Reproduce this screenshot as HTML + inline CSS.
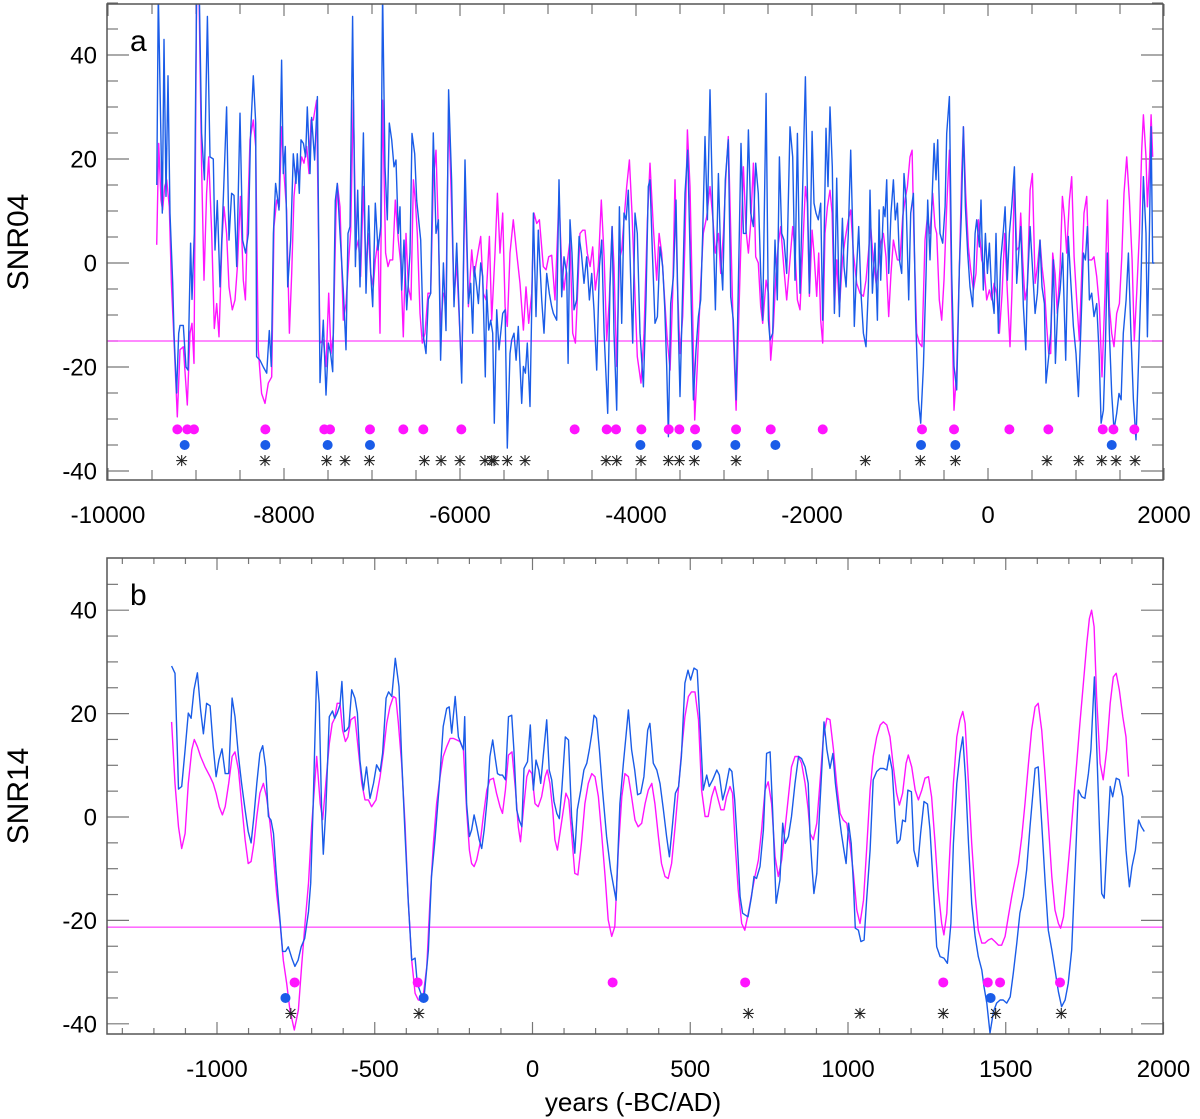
<!DOCTYPE html>
<html><head><meta charset="utf-8"><style>
html,body{margin:0;padding:0;background:#fff;}
svg{display:block;font-family:"Liberation Sans",sans-serif;}
</style></head><body>
<svg id="chart" width="1200" height="1119" viewBox="0 0 1200 1119" xmlns="http://www.w3.org/2000/svg">
<defs>
<clipPath id="clipA"><rect x="107" y="4" width="1056" height="476"/></clipPath>
<clipPath id="clipB"><rect x="107" y="558" width="1056" height="476"/></clipPath>
</defs>
</svg>
<script>
// ---------- Panel a data (year, value) ----------
const panelABlue = [[-9445,15],[-9428,52],[-9383,9.6],[-9364,43],[-9341,12.8],[-9318,36],[-9296,9.6],[-9265,-3.9],[-9250,-13.5],[-9220,-25],[-9197,-13.5],[-9182,-12],[-9144,-12],[-9114,-20],[-9091,-20.6],[-9061,3.8],[-9046,-7],[-9019,5.7],[-8993,52],[-8962,52],[-8936,25],[-8905,16],[-8871,47.4],[-8841,20.4],[-8803,20],[-8784,2.5],[-8758,12],[-8727,-4.6],[-8689,12.8],[-8652,30],[-8625,4.4],[-8595,13.4],[-8568,13],[-8538,-0.7],[-8500,28.8],[-8470,4.4],[-8436,1.9],[-8405,5.7],[-8379,25],[-8349,36],[-8322,26.9],[-8311,-18],[-8273,-18.7],[-8235,-20],[-8197,-21.2],[-8167,-13],[-8144,-19.9],[-8121,5.7],[-8095,15.3],[-8057,10.2],[-8027,39],[-8008,17.2],[-7985,22.4],[-7958,-4.6],[-7924,4.4],[-7894,21],[-7864,15.3],[-7849,21],[-7826,13.4],[-7807,23.7],[-7780,23],[-7754,20.4],[-7735,30],[-7705,17.2],[-7686,28],[-7652,19.8],[-7621,32],[-7591,-23],[-7553,-11],[-7523,-25.4],[-7496,-15.4],[-7470,-17.4],[-7447,-20.9],[-7417,12],[-7394,15.3],[-7364,5.7],[-7326,-5.2],[-7296,-16.7],[-7273,5.7],[-7250,7],[-7220,47.4],[-7189,-0.7],[-7163,14],[-7136,-4.6],[-7098,25],[-7068,-5.8],[-7038,11],[-7015,-2],[-6992,-8.4],[-6962,11.5],[-6932,2.5],[-6901,7],[-6879,52],[-6852,18.5],[-6826,8.3],[-6803,26.9],[-6776,23.7],[-6750,18.5],[-6727,19.8],[-6701,5.7],[-6682,10.8],[-6663,-5.2],[-6636,4.4],[-6606,-9],[-6568,1.9],[-6546,24.9],[-6515,21],[-6492,12],[-6447,4.4],[-6417,-14],[-6386,-17.4],[-6360,-7],[-6333,-5.8],[-6303,25],[-6273,5.7],[-6246,8.3],[-6220,-18.7],[-6189,0],[-6159,-13],[-6129,33.3],[-6095,16],[-6068,-8.4],[-6038,3.8],
[-5981,-23.1],[-5943,19.8],[-5905,-7.8],[-5878,-3.9],[-5856,-13.5],[-5837,-0.7],[-5810,-4.6],[-5791,-7.8],[-5765,0],[-5742,-2.6],[-5712,-21.9],[-5697,-5.2],[-5674,-12.9],[-5651,-11],[-5628,-13.5],[-5610,-30.8],[-5583,-9],[-5557,-16.7],[-5538,-13.5],[-5515,-9.7],[-5488,-9],[-5462,-35.6],[-5432,-17.4],[-5413,-14.8],[-5386,-13.5],[-5363,-18.7],[-5337,-12.2],[-5299,-27],[-5280,-19.9],[-5257,-21.2],[-5235,-15.4],[-5204,-27.6],[-5166,9.6],[-5136,-10.3],[-5110,6.3],[-5072,-7.1],[-5045,-13.5],[-5015,-2],[-4985,-5.8],[-4958,-8.4],[-4939,-9.7],[-4901,-11],[-4875,16],[-4844,-6.5],[-4818,1.2],[-4788,-2],[-4772,-19.3],[-4750,8.3],[-4727,1.9],[-4704,-9],[-4674,-7.1],[-4647,5.1],[-4621,1.9],[-4591,-3.9],[-4560,1.2],[-4530,-7.1],[-4503,-2],[-4477,-9],[-4447,-20.6],[-4416,-0.7],[-4390,4.4],[-4363,-13.5],[-4322,-28.9],[-4295,-4.6],[-4272,7],[-4250,-13.5],[-4219,-28.3],[-4189,10.8],[-4162,-11.6],[-4136,9.6],[-4113,8.3],[-4087,14],[-4060,-3.3],[-4038,-15.4],[-4011,9.6],[-3985,5.7],[-3954,-13.5],[-3916,-23.8],[-3886,-7.1],[-3860,14.7],[-3841,16],[-3814,1.9],[-3784,-11.6],[-3757,-10.3],[-3727,3.1],[-3697,-0.7],[-3674,-8.4],[-3651,-19.9],[-3632,-33.4],[-3606,-7.8],[-3575,-2.6],[-3545,12.1],[-3519,-12.2],[-3500,-25.7],[-3469,-4.6],[-3443,13.4],[-3413,21.7],[-3386,2.5],[-3348,-26.3],[-3318,-16.7],[-3291,-10.3],[-3265,-7.1],[-3242,5.7],[-3216,24.3],[-3189,8.3],[-3159,33.3],[-3128,10.2],[-3098,-9],[-3064,17.2],[-3038,1.2],[-3015,-5.2],[-2985,16],[-2951,23.7],[-2924,-6.5],[-2894,-11],[-2863,-26.3],[-2833,-0.7],[-2807,23],[-2780,5.7],[-2750,5.7],[-2723,25.6],[-2697,9.6],[-2666,7],[-2640,19.2],[-2610,13.4],[-2583,-2],[-2560,-11],[-2522,32.6],[-2496,-11],[-2477,-14.8],[-2447,-13.5],[-2420,4.4],[-2394,-7.1],[-2371,20.4],[-2344,5.7],[-2318,4.4],[-2288,-2],[-2250,26.2],[-2219,20.4],[-2193,-3.3],[-2166,24.9],[-2136,-5.8],[-2106,14.7],[-2075,35.8],[-2053,14.7],
[-2030,-5.8],[-1999,25.3],[-1977,11.5],[-1954,9.6],[-1928,8.3],[-1901,11.5],[-1878,-11],[-1841,25.9],[-1818,14.7],[-1795,30],[-1769,18.5],[-1746,-9.7],[-1719,16.3],[-1689,-10.3],[-1655,8.6],[-1636,-0.7],[-1613,-4.6],[-1587,5.7],[-1560,21.7],[-1537,6.3],[-1519,-12.2],[-1492,-0.7],[-1469,7],[-1443,-5.8],[-1416,-13.5],[-1386,-16.1],[-1359,-4.6],[-1341,14],[-1314,-5.8],[-1284,3.8],[-1257,-11],[-1238,10.2],[-1219,-3.3],[-1189,10.8],[-1170,8.9],[-1151,16],[-1128,-2],[-1102,9.6],[-1075,16],[-1053,8.3],[-1030,11.5],[-1007,0.6],[-981,-2],[-954,17.2],[-931,12.1],[-901,-7.1],[-878,9.6],[-848,13.4],[-822,-11],[-791,-26.3],[-765,-30.8],[-734,-19.9],[-704,-2.6],[-685,12.1],[-659,0.6],[-636,12.1],[-613,23],[-591,16],[-572,23.7],[-545,5.7],[-515,3.8],[-488,10.8],[-469,24.9],[-439,32],[-412,-2],[-386,-19.9],[-356,-24.4],[-325,-0.7],[-303,8.9],[-280,26.2],[-257,10.8],[-231,1.9],[-204,-4.6],[-174,-8.4],[-147,5.7],[-128,8.3],[-98,3.1],[-79,12.1],[-53,-5.2],[-30,5.7],[-7,-2],[16,3.8],[42,-5.8],[69,-9.7],[91,5.7],[118,-13.5],[144,0.6],[175,6.3],[194,10.8],[220,-3.3],[243,5.7],[269,10.8],[300,18.5],[326,-3.9],[349,1.9],[372,7],[402,-8.4],[429,-16.7],[447,-4.6],[478,7],[504,-0.7],[535,-9.7],[561,-5.8],[591,4.4],[614,-4.6],[641,-7.8],[659,-23.1],[690,-18],[713,-13.5],[743,0.6],[766,-19.3],[792,-9],[819,-5.2],[849,1.9],[883,-18.7],[913,5.1],[940,-3.3],[970,-12.2],[1000,-17.4],[1027,-25.7],[1053,-13.5],[1084,1.9],[1107,0.6],[1129,7],[1152,-7.1],[1178,-5.8],[1205,-10.3],[1235,-7.8],[1262,-17.4],[1285,-30.8],[1311,-28.3],[1334,-16.1],[1357,1.9],[1379,-13.5],[1406,-25.1],[1432,-32.1],[1463,-28.9],[1489,-25.1],[1512,-26.3],[1538,-13.5],[1569,-7.1],[1595,1.9],[1622,-12.2],[1652,-26.3],[1682,-34],[1709,-19.9],[1735,-5.8],[1766,16.6],[1796,5.7],[1811,-14.2],[1834,5.7],[1853,26.2],[1872,0],[1890,0]];

const panelAMagenta = [[-9447,3.5],[-9424,23],[-9398,12.1],[-9379,10.2],[-9356,14.7],[-9333,16],[-9303,10.8],[-9280,-3.9],[-9250,-14.8],[-9212,-29.6],[-9182,-16.7],[-9144,-16.1],[-9099,-27.3],[-9068,-13.5],[-9046,-11.6],[-9023,-19.3],[-8993,52],[-8966,52],[-8936,18.5],[-8909,-3.3],[-8879,13.4],[-8856,20.4],[-8822,5.7],[-8792,-12.6],[-8765,-7.8],[-8739,-14.2],[-8705,4.4],[-8682,10.8],[-8652,5.7],[-8625,-4.6],[-8587,-9],[-8557,-7.1],[-8530,-0.7],[-8496,12.8],[-8462,-3.3],[-8439,-7.1],[-8417,6.3],[-8386,23.7],[-8349,27.5],[-8322,22.4],[-8292,-16.7],[-8254,-25.1],[-8216,-27],[-8178,-23.1],[-8140,-21.9],[-8114,7],[-8083,12.1],[-8053,10.8],[-8027,26.2],[-8000,17.2],[-7970,10.2],[-7939,-13.5],[-7913,-2],[-7886,12.8],[-7856,18.5],[-7830,16.6],[-7799,20.4],[-7773,19.2],[-7742,22.4],[-7716,17.2],[-7693,27.5],[-7667,27.5],[-7629,31.3],[-7591,-15.4],[-7553,-14.8],[-7523,-19.9],[-7492,-5.8],[-7466,-17.4],[-7439,-13.5],[-7409,9.6],[-7394,15.3],[-7364,10.8],[-7326,-11],[-7296,-7.8],[-7269,-0.7],[-7242,6.3],[-7212,31.3],[-7182,2.5],[-7155,4.4],[-7129,-2.6],[-7098,14.7],[-7072,-0.7],[-7042,5.7],[-7015,-2],[-6985,-4.6],[-6962,0.6],[-6932,4.4],[-6909,-13.5],[-6879,31.3],[-6845,1.9],[-6818,-0.7],[-6796,0.6],[-6765,0.6],[-6735,12.1],[-6701,4.4],[-6674,0],[-6644,-14.2],[-6614,5.7],[-6587,-4.6],[-6557,-7.1],[-6530,16],[-6508,12.1],[-6485,5.7],[-6455,-9.7],[-6428,-15.4],[-6398,-13.5],[-6364,-5.8],[-6333,-5.8],[-6303,16],[-6273,21.7],[-6246,5.7],[-6220,-12.2],[-6189,-5.8],[-6159,-7.1],[-6129,29.4],[-6095,10.8],[-6068,-7.1],[-6038,0],
[-5981,-21.2],[-5943,14.7],[-5905,-8.4],[-5867,2.5],[-5841,-2.6],[-5810,0.6],[-5765,5.1],[-5735,-5.8],[-5704,-7.1],[-5666,5.1],[-5640,-11],[-5602,1.9],[-5575,13.4],[-5545,1.9],[-5515,9.6],[-5488,-8.4],[-5462,-12.2],[-5432,1.9],[-5394,8.3],[-5356,1.9],[-5318,-3.9],[-5280,-12.9],[-5250,-4.6],[-5219,-11.6],[-5185,-5.8],[-5159,9.6],[-5128,7.6],[-5098,8.3],[-5053,-0.7],[-5022,-1.3],[-4992,1.2],[-4958,1.5],[-4920,-7.1],[-4875,12.8],[-4844,-0.7],[-4818,-5.2],[-4788,-0.7],[-4750,4.4],[-4719,-13.5],[-4689,-15.4],[-4659,-3.9],[-4636,5.7],[-4606,6.3],[-4579,6.3],[-4553,1.9],[-4522,-0.7],[-4492,3.1],[-4462,-5.2],[-4428,-0.7],[-4394,12.1],[-4363,1.2],[-4333,-14.8],[-4303,-7.1],[-4272,7],[-4250,-0.7],[-4219,-19.9],[-4189,0.6],[-4162,2.5],[-4136,8.3],[-4106,14.7],[-4075,19.8],[-4045,9.6],[-4015,-4.6],[-3985,-18],[-3943,-23.1],[-3909,-13.5],[-3871,8.3],[-3841,19.2],[-3803,7],[-3765,-3.3],[-3738,5.7],[-3708,1.9],[-3674,-7.1],[-3644,-14.8],[-3613,-20.6],[-3583,-5.8],[-3557,16],[-3530,-3.9],[-3500,-17.4],[-3469,-10.3],[-3443,4.4],[-3416,25.6],[-3386,14.7],[-3359,-7.1],[-3333,-30.2],[-3303,-19.9],[-3272,-6.5],[-3235,5.7],[-3197,8.9],[-3159,14.7],[-3128,8.9],[-3098,1.9],[-3064,5.7],[-3038,-2],[-3007,5.7],[-2977,17.2],[-2951,24.3],[-2924,6.3],[-2894,-13.5],[-2863,-28.3],[-2833,-11],[-2807,4.4],[-2780,18.5],[-2750,6.3],[-2723,1.9],[-2697,7.6],[-2666,19.2],[-2640,1.2],[-2610,0],[-2583,-8.4],[-2560,-11.6],[-2522,-3.3],[-2496,-5.8],[-2469,-18.7],[-2439,-12.2],[-2409,-2],[-2382,3.8],[-2356,7],[-2318,-1.3],[-2288,-7.1],[-2250,0.6],[-2219,7],[-2193,2.5],[-2166,-7.1],[-2136,-9],[-2106,2.5],[-2075,14.7],[-2053,11.5],
[-2030,-6.4],[-1999,6.3],[-1977,1.9],[-1947,-6.4],[-1924,1.9],[-1901,-11],[-1878,-15.4],[-1852,5.7],[-1825,10.8],[-1795,14],[-1772,9.6],[-1746,-9],[-1719,0.6],[-1689,-9],[-1655,0.6],[-1625,4.4],[-1587,8.3],[-1560,10.2],[-1530,1.9],[-1492,-3.9],[-1454,-5.8],[-1416,-6.4],[-1386,-3.3],[-1359,1.9],[-1333,7],[-1303,0.6],[-1272,-3.9],[-1246,-0.7],[-1219,3.8],[-1189,5.7],[-1159,1.2],[-1128,-10.3],[-1102,-2],[-1075,4.4],[-1053,2.5],[-1030,0.6],[-1000,0.6],[-969,8.9],[-943,12.1],[-916,14.7],[-886,20.4],[-863,21.7],[-841,4.4],[-810,-13.5],[-780,-15.4],[-750,-16.1],[-716,4.4],[-689,8.9],[-659,5.7],[-628,13.4],[-602,7],[-583,5.7],[-553,-7.1],[-526,-11],[-500,-3.3],[-469,10.8],[-439,21.7],[-412,-7.1],[-386,-28.3],[-356,-20.6],[-325,-0.7],[-299,17.2],[-280,26.2],[-253,13.4],[-223,3.1],[-197,-1.3],[-166,-5.2],[-136,-2],[-109,8.3],[-72,0.6],[-45,-0.7],[-15,-7.1],[16,-5.2],[42,-7.1],[69,-3.9],[99,-5.8],[129,-13.5],[160,-5.8],[190,5.7],[220,-5.8],[250,-16.1],[273,-5.2],[300,16.6],[326,2.5],[353,3.1],[372,9.6],[394,0.6],[421,-7.1],[447,-4.6],[478,14],[504,17.2],[535,-3.9],[561,-0.7],[591,4.4],[614,-0.7],[641,-4.6],[667,-12.2],[690,-17.4],[713,-17.4],[735,1.9],[762,-2],[788,-9.7],[819,-0.7],[845,12.8],[868,8.9],[894,1.9],[925,12.1],[951,16.6],[978,1.2],[1008,-7.1],[1038,-14.8],[1065,-2],[1091,9.6],[1122,12.8],[1144,0.6],[1178,0.6],[1205,1.2],[1235,-2.6],[1266,-8.4],[1296,-21.9],[1330,-5.8],[1357,12.1],[1379,-8.4],[1406,-13.5],[1432,-16.1],[1463,-9.7],[1493,-7.8],[1520,1.2],[1546,13.4],[1576,20.4],[1607,12.1],[1637,0.6],[1663,-14.8],[1690,-5.8],[1720,5.7],[1747,21.7],[1766,28.5],[1796,20.4],[1811,10.8],[1834,18.5],[1853,28.5],[1872,20.4]];

const panelAMagentaDots = [-9212,-9099,-9023,-8212,-7542,-7477,-7023,-6644,-6417,-5985,-4697,-4333,-4227,-3939,-3628,-3507,-3329,-2863,-2469,-1878,-750,-386,243,686,1304,1425,1663];
const panelABlueDots = [-9129,-8212,-7504,-7023,-3950,-3310,-2871,-2416,-761,-371,1406];
const panelAStars = [-9163,-8216,-7515,-7307,-7030,-6405,-6215,-6000,-5716,-5640,-5613,-5462,-5261,-4340,-4219,-3943,-3632,-3507,-3337,-2863,-1394,-769,-371,671,1031,1292,1455,1671];
const panelAThreshold = -15;
const panelAXTicks = [-10000,-8000,-6000,-4000,-2000,0,2000];
const panelAYTicks = [40,20,0,-20,-40];

// ---------- Panel b data ----------
const panelBBlue = [[-1144,29.2],[-1133,27.8],[-1122,5.4],[-1112,5.9],[-1101,13],[-1091,20.1],[-1082,19.1],[-1073,24.6],[-1062,27.9],[-1052,20.7],[-1043,16.1],[-1033,22],[-1022,21.5],[-1012,13.6],[-1003,7.8],[-994,11],[-984,13.2],[-974,8.4],[-963,8.4],[-952,23],[-943,19.4],[-932,11.7],[-922,6.5],[-911,1.4],[-901,-2.8],[-892,-5],[-883,0.1],[-874,6.5],[-864,12.3],[-855,13.8],[-846,9.7],[-837,0.1],[-829,-0.6],[-821,-3.2],[-813,-10.3],[-803,-18],[-792,-26],[-783,-26],[-774,-25.1],[-763,-27.3],[-753,-28.9],[-743,-27.7],[-733,-25.1],[-722,-23.5],[-710,-18.3],[-703,-12.8],[-695,2.6],[-684,28.1],[-676,22],[-668,0.7],[-663,-7.2],[-655,1.4],[-644,19.4],[-634,20.5],[-627,19.1],[-619,20.1],[-610,21.7],[-604,26.2],[-596,16.5],[-589,16.8],[-582,17.5],[-573,24.6],[-563,23],[-555,20.1],[-547,11],[-536,5.2],[-526,9.7],[-515,3.6],[-504,6.5],[-494,10.1],[-483,8.8],[-475,12.3],[-464,23],[-456,24.2],[-446,23.3],[-435,30.7],[-423,25.2],[-415,11.7],[-404,-3.2],[-394,-16.1],[-383,-27.7],[-372,-27.3],[-365,-32.2],[-354,-34.1],[-344,-35.1],[-330,-25.7],[-320,-11.5],[-309,-4.4],[-295,6.5],[-283,17.5],[-272,21],[-264,21.3],[-256,16.2],[-245,23.3],[-235,15.5],
[-219,13],[-215,19.4],[-209,2.6],[-200,-3.8],[-193,-2.5],[-185,0.4],[-177,-1.9],[-169,-4.4],[-161,-6.1],[-153,-2.5],[-143,3.9],[-135,11.7],[-126,14.9],[-119,11.7],[-111,8.4],[-103,8.1],[-95,8.1],[-86,7.2],[-76,19.4],[-66,19.7],[-59,13],[-50,1.4],[-42,-0.6],[-34,-1.9],[-27,9.4],[-16,10.7],[-7,17.8],[3,5.2],[11,11],[20,9.1],[26,6.5],[34,11.7],[45,18.8],[53,9.1],[61,7.2],[68,3],[77,0.7],[85,-0.3],[93,5.2],[104,15.5],[114,14.9],[124,0.1],[134,-7],[142,1.4],[153,5.2],[163,9.1],[172,10.4],[180,13],[189,16.5],[195,19.7],[203,19.1],[212,13],[222,5.2],[235,-3.8],[248,-10.3],[265,-16.1],[277,2.6],[288,10.4],[296,15.5],[304,20.7],[314,13],[324,9.1],[333,4.3],[343,4.6],[353,7.8],[365,16.8],[372,18.1],[383,10.4],[394,9.1],[404,6.5],[415,1.4],[425,-3.8],[434,-7.7],[442,-2.5],[453,4.6],[463,5.9],[472,11.7],[483,25.9],[493,28.4],[501,26.5],[512,28.8],[522,28.4],[531,18.1],[541,5.2],[552,8.1],[560,5.9],[571,7.2],[584,9.1],[592,8.1],[603,3.3],[611,5.2],[624,9.4],[632,8.8],[641,3.3],[649,-5.1],[658,-15.4],[666,-18.6],[675,-19],[683,-19.3],[694,-15.4],[702,-11.5],[710,-11.9],[721,-9.6],[732,-2.5],[742,12.3],[753,12.6],[761,1.4],[772,-16.7],[784,-12.2],[793,-1.2],[801,-5.1],[811,-3.8],[821,0.1],[832,6.5],[843,11.7],[853,11.3],[864,9.7],[874,6.5],
[880,-3.8],[886,-9.6],[892,-14.8],[901,-10.9],[909,0.1],[918,10.4],[924,18.4],[933,13],[943,9.4],[952,12.3],[960,6.5],[971,0.7],[979,-3.2],[987,-6.4],[994,-9],[1002,-1.2],[1010,-5.1],[1017,-12.8],[1023,-21.5],[1033,-21.9],[1041,-24.1],[1051,-23.8],[1059,-16.1],[1070,-6.4],[1080,7.2],[1091,8.8],[1102,9.4],[1112,9.4],[1123,9.1],[1131,12],[1140,9.1],[1149,0.1],[1156,-5.1],[1165,-4.4],[1173,-0.6],[1182,-0.9],[1190,5.2],[1201,4.9],[1209,-6.4],[1221,-9.6],[1230,-3.2],[1241,3],[1252,2.5],[1260,-2.5],[1271,-14.1],[1281,-25.1],[1292,-27],[1304,-27.3],[1315,-28.3],[1326,-20.6],[1334,-5.1],[1345,6.5],[1355,12.3],[1364,15.5],[1372,7.8],[1382,-5.1],[1392,-16.7],[1403,-23.1],[1413,-27],[1424,-29.6],[1431,-32.8],[1440,-36],[1450,-41.8],[1461,-37.7],[1471,-36],[1482,-35.4],[1492,-35.4],[1503,-36],[1514,-34.8],[1524,-30.2],[1535,-24.4],[1545,-18.6],[1556,-15.4],[1566,-10.3],[1577,-1.9],[1588,5.9],[1593,9.4],[1603,9.7],[1614,-1.2],[1625,-12.8],[1635,-21.9],[1646,-25.7],[1656,-29.6],[1667,-33.8],[1677,-36.7],[1688,-35.4],[1698,-32.2],[1709,-25.7],[1720,-9.6],[1730,5.2],[1741,3.9],[1751,3.6],[1762,8.4],[1770,13],[1781,27.1],[1788,14.2],[1797,-2.5],[1804,-14.8],[1812,-15.7],[1820,-6.4],[1831,5.9],[1839,3.9],[1850,7.5],[1860,7.2],[1871,3.9],[1881,-6.4],[1892,-13.5],[1900,-9.6],[1911,-6.4],[1921,-0.6],[1930,-1.9],[1939,-2.8]];

const panelBMagenta = [[-1144,18.4],[-1133,6.5],[-1122,-1.9],[-1112,-6.1],[-1101,-3.2],[-1091,6.5],[-1080,13],[-1072,15],[-1062,13.6],[-1052,11.7],[-1038,9.7],[-1022,7.8],[-1012,6.5],[-1003,4.6],[-993,2],[-983,0.4],[-974,2],[-963,6.5],[-952,11.7],[-943,12.6],[-932,9.1],[-922,2.6],[-911,-4.4],[-901,-9],[-892,-8.6],[-883,-5.1],[-874,0.1],[-864,4.6],[-853,6.5],[-843,3.9],[-832,-1.2],[-821,-7.7],[-811,-14.8],[-800,-20.6],[-790,-27.7],[-779,-32.2],[-769,-37.3],[-755,-41.2],[-742,-37.3],[-732,-28.9],[-721,-20.6],[-710,-12.8],[-700,-1.9],[-684,11.7],[-673,2.6],[-665,-0.5],[-655,6.5],[-644,14.2],[-635,18.1],[-627,19.1],[-619,22],[-610,22],[-602,16.8],[-593,14.6],[-585,15.5],[-576,18.8],[-563,19.4],[-552,13],[-541,6.5],[-531,3.3],[-520,3.3],[-510,2],[-496,3.3],[-483,7.8],[-473,12.3],[-462,18.1],[-452,21.3],[-441,23.3],[-433,23],[-425,18.1],[-415,10.4],[-404,-1.2],[-394,-16.1],[-383,-27.7],[-372,-34.1],[-362,-35.4],[-348,-35.4],[-335,-28.9],[-325,-16.1],[-314,-5.1],[-304,2.6],[-293,7.8],[-283,11.7],[-272,13.6],[-261,15.2],[-251,15.2],[-240,14.9],[-230,14.6],
[-219,13],[-209,1.4],[-200,-6.4],[-193,-9],[-185,-9.6],[-177,-8.3],[-166,-5.1],[-156,0.1],[-145,5.2],[-135,7.2],[-124,7.5],[-114,4.6],[-103,2],[-95,0.7],[-86,5.2],[-76,12],[-65,12.6],[-54,5.2],[-45,-1.9],[-38,-4.8],[-29,1.4],[-18,7.8],[-10,9.1],[-2,8.4],[8,2.6],[18,2],[29,3.9],[40,7.8],[47,9.1],[55,6.5],[64,1.4],[71,-4.4],[79,-6.4],[87,-3.2],[98,1.4],[106,4.6],[115,3.3],[124,-3.2],[134,-10.9],[144,-11.2],[155,-5.1],[166,2.6],[177,6.5],[188,8.4],[198,7.8],[209,3.9],[219,-3.2],[230,-11.5],[240,-19.9],[251,-23.1],[261,-21.2],[272,-6.4],[283,3.9],[293,8.4],[304,7.8],[314,3.9],[325,-0.6],[335,-1.9],[346,-1.2],[357,2.6],[367,5.2],[378,6.5],[388,2.6],[399,-3.8],[409,-9],[420,-11.5],[430,-11.9],[441,-9],[452,-1.9],[462,5.2],[473,13],[483,19.4],[494,23.3],[504,24.2],[515,24.2],[526,18.8],[536,5.2],[547,0.1],[557,0.1],[568,3.9],[578,5.9],[589,3.3],[597,1.4],[607,1.4],[615,3.9],[626,5.9],[634,4.6],[642,-5.1],[652,-14.1],[663,-20.6],[673,-21.9],[684,-18.6],[695,-14.8],[705,-11.5],[716,-8.3],[726,-2.5],[737,5.2],[747,6.8],[758,2.6],[769,-7.7],[779,-11.5],[790,-8.3],[800,-2.5],[811,3.9],[821,9.7],[832,11.7],[843,11.7],[853,10.4],[864,6.5],[874,1.4],
[880,-3.2],[890,-4.4],[901,-1.2],[911,6.5],[922,15.5],[933,19.1],[943,18.8],[954,13],[964,6.5],[975,0.7],[985,-0.6],[996,-1.2],[1006,-5.1],[1017,-10.9],[1028,-18],[1038,-20.6],[1049,-16.1],[1059,-6.4],[1070,5.2],[1080,11.7],[1091,15.5],[1102,17.8],[1112,18.4],[1123,17.8],[1133,15.5],[1144,9.7],[1154,4.6],[1163,2.3],[1173,4.6],[1184,10.4],[1191,12],[1202,9.7],[1213,5.2],[1223,3.3],[1234,5.2],[1244,7.5],[1255,7.8],[1265,3.9],[1276,-5.1],[1286,-14.1],[1297,-20.6],[1304,-22.8],[1313,-18.6],[1323,-6.4],[1334,6.5],[1345,15.5],[1355,18.8],[1364,20.4],[1371,18.1],[1382,6.5],[1392,-5.1],[1403,-14.8],[1413,-21.9],[1424,-24.4],[1434,-24.4],[1445,-23.8],[1455,-23.5],[1466,-24.1],[1477,-24.8],[1487,-24.8],[1498,-23.1],[1508,-19.3],[1519,-15.4],[1529,-12.2],[1540,-9],[1551,-3.8],[1561,2.6],[1572,10.4],[1582,16.8],[1593,21.3],[1603,22],[1614,16.8],[1625,7.8],[1635,-1.2],[1646,-11.5],[1656,-18],[1667,-20.6],[1674,-21.5],[1683,-19.3],[1693,-12.8],[1704,-5.1],[1714,2.6],[1725,10.4],[1735,18.1],[1746,25.9],[1757,33.6],[1765,38.4],[1772,40],[1780,36.8],[1788,23.3],[1799,10.4],[1809,7.2],[1820,13],[1831,22],[1841,27.1],[1850,27.8],[1860,24.6],[1871,19.4],[1881,15.5],[1889,7.8]];

const panelBMagentaDots = [-754,-364,254,674,1302,1443,1482,1672];
const panelBBlueDots = [-783,-345,1452];
const panelBStars = [-766,-360,684,1038,1302,1468,1676];
const panelBThreshold = -21.3;
const panelBXTicks = [-1000,-500,0,500,1000,1500,2000];
const panelBYTicks = [40,20,0,-20,-40];

// ---------- Rendering ----------
const NS = 'http://www.w3.org/2000/svg';
const svg = document.getElementById('chart');
const BLUE = '#1a5ce8', MAG = '#ff14ff';

function mk(tag, attrs, parent) {
  const e = document.createElementNS(NS, tag);
  for (const k in attrs) e.setAttribute(k, attrs[k]);
  (parent || svg).appendChild(e);
  return e;
}

function drawPanel(p) {
  const g = mk('g', {});
  
  
  const L = 107, R = 1163, T = p.top, B = p.top + 476;

  const tg = mk('g', {stroke: '#777', 'stroke-width': 1.2}, g);
  
  
  for (let v = p.yMinTick; v <= p.yMaxTick; v += 5) {
    const y = p.y(v);
    const len = (v % 20 === 0) ? 22 : 11;
    mk('line', {x1: L, x2: L + len, y1: y, y2: y}, tg);
    mk('line', {x1: R, x2: R - len, y1: y, y2: y}, tg);
  }
  for (let yr = p.xMinTick; yr <= p.xMaxTick; yr += p.xMinorStep) {
    const x = p.x(yr);
    if (x < L - 1 || x > R + 1) continue;
    const len = (yr % p.xMajorStep === 0) ? 12 : p.xMinorLen;
    mk('line', {x1: x, x2: x, y1: B, y2: B - len}, tg);
    mk('line', {x1: x, x2: x, y1: T, y2: T + len}, tg);
  }

  const th = mk('line', {x1: L, x2: R, y1: p.y(p.threshold), y2: p.y(p.threshold), stroke: MAG, 'stroke-width': 1}, g);
  
  

  const clip = mk('g', {'clip-path': 'url(#' + p.clip + ')'}, g);
  [[p.magenta, MAG, 'magenta-series'], [p.blue, BLUE, 'blue-series']].forEach(function (s) {
    const d = s[0].map(function (pt, i) { return (i ? 'L' : 'M') + p.x(pt[0]).toFixed(1) + ',' + p.y(pt[1]).toFixed(1); }).join('');
    const path = mk('path', {d: d, fill: 'none', stroke: s[1], 'stroke-width': 1.4, 'stroke-linejoin': 'round'}, clip);
    
    
  });

  p.magDots.forEach(function (yr) {
    const c = mk('circle', {cx: p.x(yr), cy: p.y(-32), r: 5, fill: MAG}, g);
    
    
  });
  p.blueDots.forEach(function (yr) {
    const c = mk('circle', {cx: p.x(yr), cy: p.y(-35), r: 5, fill: BLUE}, g);
    
    
  });
  p.stars.forEach(function (yr) {
    const cx = p.x(yr), cy = p.y(-38);
    const s = mk('g', {stroke: '#222', 'stroke-width': 1.1}, g);
    
    
    mk('line', {x1: cx - 5.5, x2: cx + 5.5, y1: cy, y2: cy}, s);
    mk('line', {x1: cx, x2: cx, y1: cy - 5.5, y2: cy + 5.5}, s);
    mk('line', {x1: cx - 4.5, x2: cx + 4.5, y1: cy - 4.5, y2: cy + 4.5}, s);
    mk('line', {x1: cx - 4.5, x2: cx + 4.5, y1: cy + 4.5, y2: cy - 4.5}, s);
  });

  const fr = mk('rect', {x: L, y: T, width: R - L, height: B - T, fill: 'none', stroke: '#555', 'stroke-width': 1.5}, g);
  
  

  p.yTicks.forEach(function (v) {
    const t = mk('text', {x: 97, y: p.y(v) + 8.5, 'text-anchor': 'end', 'font-size': 24, fill: '#000'}, g);
    t.textContent = String(v);
    
    
  });
  p.xTicks.forEach(function (yr) {
    const t = mk('text', {x: p.x(yr), y: B + 43, 'text-anchor': 'middle', 'font-size': 24, fill: '#000'}, g);
    t.textContent = String(yr);
    
    
  });
  const yt = mk('text', {x: 0, y: 0, 'text-anchor': 'middle', 'font-size': 30, fill: '#000', transform: 'translate(28,' + (T + 238) + ') rotate(-90)'}, g);
  yt.textContent = p.yTitle;
  
  
  const pl = mk('text', {x: 130, y: T + 47, 'font-size': 30, fill: '#000'}, g);
  pl.textContent = p.letter;
  
  
}

drawPanel({
  name: 'panel-a', top: 4, clip: 'clipA',
  x: function (yr) { return 108 + (yr + 10000) * 0.088; },
  y: function (v) { return 263 - v * 5.2; },
  yMinTick: -40, yMaxTick: 50, xMinTick: -10000, xMaxTick: 2000, xMinorStep: 500, xMajorStep: 2000, xMinorLen: 10,
  threshold: panelAThreshold, blue: panelABlue, magenta: panelAMagenta,
  magDots: panelAMagentaDots, blueDots: panelABlueDots, stars: panelAStars,
  xTicks: panelAXTicks, yTicks: panelAYTicks, yTitle: 'SNR04', letter: 'a'
});
drawPanel({
  name: 'panel-b', top: 558, clip: 'clipB',
  x: function (yr) { return 532.5 + yr * 0.3155; },
  y: function (v) { return 817 - v * 5.17; },
  yMinTick: -40, yMaxTick: 45, xMinTick: -1300, xMaxTick: 2000, xMinorStep: 100, xMajorStep: 500, xMinorLen: 6,
  threshold: panelBThreshold, blue: panelBBlue, magenta: panelBMagenta,
  magDots: panelBMagentaDots, blueDots: panelBBlueDots, stars: panelBStars,
  xTicks: panelBXTicks, yTicks: panelBYTicks, yTitle: 'SNR14', letter: 'b'
});

const xt = mk('text', {x: 633, y: 1111, 'text-anchor': 'middle', 'font-size': 26, fill: '#000'});
xt.textContent = 'years (-BC/AD)';


</script>
</body></html>
